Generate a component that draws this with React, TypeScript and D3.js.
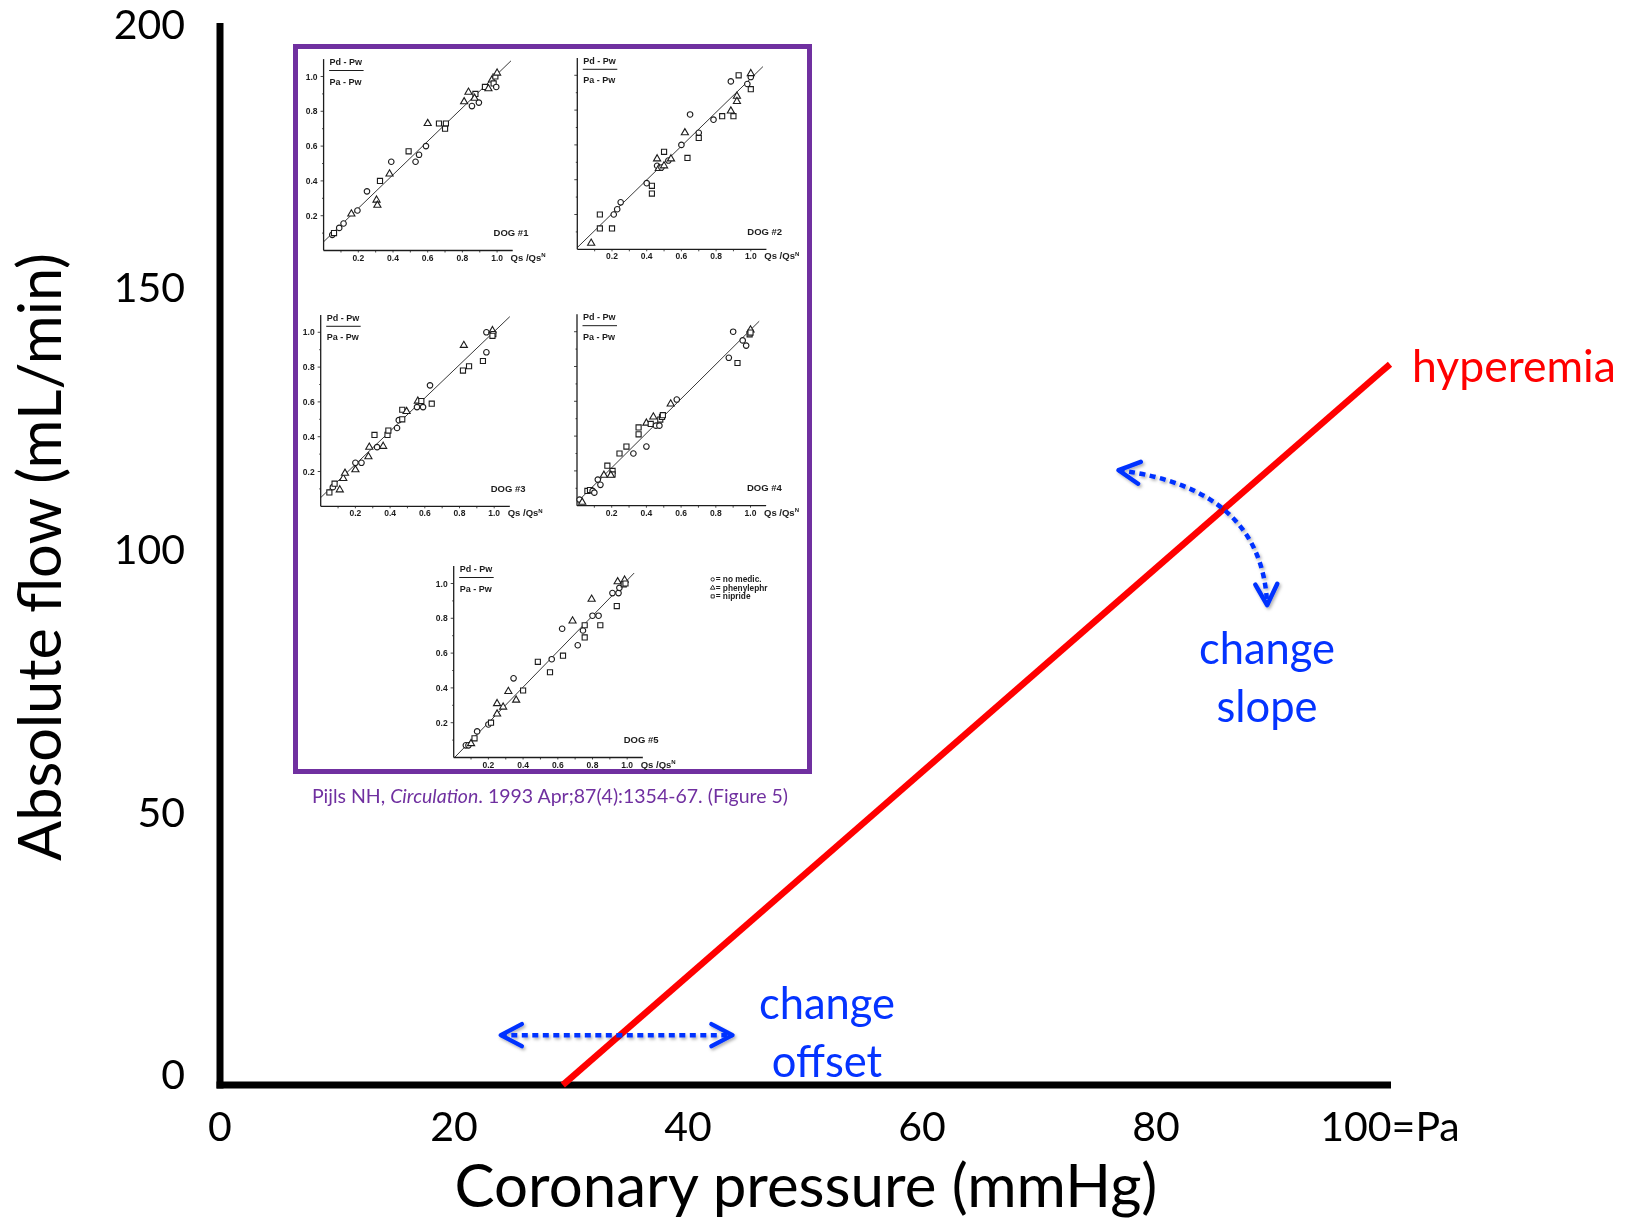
import React from 'react';
import * as d3 from 'd3';

// main chart values
const xTicks = [0, 20, 40, 60, 80, 100];
const xTickLabels = ['0', '20', '40', '60', '80', '100=Pa'];
const yTicks = [0, 50, 100, 150, 200];
const hyperemia = [[29.3, 0], [100, 137.3]];
const offsetArrow = [[24, 9.5], [43.8, 9.5]];
const slopeArrow = [[76.8, 117.1], [89.1, 113.7], [89.5, 91.4]]; // start, control, end

// inset: Pijls 1993 fig 5, [Qs/QsN, (Pd-Pw)/(Pa-Pw), marker]
const dog1 = [
  [0.05, 0.09, 'o'], [0.06, 0.10, 's'], [0.09, 0.13, 'o'], [0.115, 0.155, 'o'], [0.16, 0.21, 't'],
  [0.195, 0.23, 'o'], [0.25, 0.34, 'o'], [0.305, 0.29, 't'], [0.31, 0.26, 't'], [0.325, 0.40, 's'],
  [0.38, 0.44, 't'], [0.39, 0.51, 'o'], [0.49, 0.57, 's'], [0.53, 0.51, 'o'], [0.55, 0.55, 'o'],
  [0.59, 0.60, 'o'], [0.60, 0.73, 't'], [0.665, 0.73, 's'], [0.705, 0.73, 's'], [0.70, 0.70, 's'],
  [0.81, 0.855, 't'], [0.835, 0.91, 't'], [0.855, 0.83, 'o'], [0.875, 0.90, 's'], [0.87, 0.875, 't'],
  [0.895, 0.85, 'o'], [0.93, 0.94, 's'], [0.95, 0.93, 't'], [0.97, 0.98, 't'], [0.98, 0.96, 's'],
  [0.99, 1.0, 's'], [1.0, 1.02, 't'], [0.995, 0.94, 'o'],
];
const dog2 = [
  [0.08, 0.035, 't'], [0.13, 0.12, 's'], [0.13, 0.20, 's'], [0.20, 0.12, 's'], [0.21, 0.20, 'o'],
  [0.23, 0.23, 'o'], [0.25, 0.27, 'o'], [0.40, 0.38, 'o'], [0.43, 0.365, 's'], [0.43, 0.32, 's'],
  [0.46, 0.52, 't'], [0.46, 0.48, 'o'], [0.47, 0.465, 't'], [0.485, 0.47, 'o'], [0.50, 0.48, 't'],
  [0.50, 0.56, 's'], [0.525, 0.51, 'o'], [0.54, 0.52, 't'], [0.60, 0.60, 'o'], [0.62, 0.67, 't'],
  [0.635, 0.525, 's'], [0.65, 0.775, 'o'], [0.70, 0.67, 'o'], [0.70, 0.64, 's'], [0.785, 0.745, 'o'],
  [0.835, 0.765, 's'], [0.885, 0.965, 'o'], [0.885, 0.795, 't'], [0.90, 0.765, 's'], [0.92, 0.88, 't'],
  [0.92, 0.85, 't'], [0.93, 1.0, 's'], [0.98, 0.95, 'o'], [1.0, 0.92, 's'], [1.0, 0.99, 'o'], [1.0, 1.01, 't'],
];
const dog3 = [
  [0.05, 0.08, 's'], [0.07, 0.11, 'o'], [0.08, 0.13, 's'], [0.11, 0.095, 't'], [0.13, 0.16, 't'],
  [0.14, 0.19, 't'], [0.20, 0.21, 't'], [0.20, 0.25, 'o'], [0.235, 0.25, 'o'], [0.275, 0.285, 't'],
  [0.28, 0.34, 't'], [0.31, 0.41, 's'], [0.325, 0.34, 'o'], [0.36, 0.345, 't'], [0.385, 0.41, 's'],
  [0.39, 0.435, 's'], [0.44, 0.45, 'o'], [0.45, 0.495, 'o'], [0.47, 0.50, 's'], [0.47, 0.555, 's'],
  [0.495, 0.545, 't'], [0.555, 0.57, 'o'], [0.56, 0.605, 't'], [0.58, 0.605, 's'], [0.59, 0.57, 'o'],
  [0.63, 0.695, 'o'], [0.64, 0.59, 's'], [0.82, 0.78, 's'], [0.825, 0.925, 't'], [0.855, 0.805, 's'],
  [0.935, 0.835, 's'], [0.955, 1.0, 'o'], [0.955, 0.885, 'o'], [0.99, 1.01, 't'], [0.995, 0.99, 's'], [0.99, 0.98, 's'],
];
const dog4 = [
  [0.015, 0.035, 'o'], [0.03, 0.02, 't'], [0.06, 0.085, 's'], [0.075, 0.09, 's'], [0.09, 0.085, 'o'],
  [0.10, 0.075, 'o'], [0.12, 0.15, 'o'], [0.135, 0.12, 'o'], [0.155, 0.175, 't'], [0.175, 0.23, 's'],
  [0.205, 0.20, 's'], [0.205, 0.18, 's'], [0.195, 0.175, 't'], [0.245, 0.30, 's'], [0.285, 0.34, 's'],
  [0.325, 0.30, 'o'], [0.355, 0.41, 's'], [0.355, 0.45, 's'], [0.40, 0.34, 'o'], [0.40, 0.475, 't'],
  [0.44, 0.51, 't'], [0.425, 0.47, 's'], [0.455, 0.46, 'o'], [0.475, 0.46, 'o'], [0.48, 0.495, 's'],
  [0.49, 0.51, 's'], [0.495, 0.52, 's'], [0.54, 0.585, 't'], [0.575, 0.61, 'o'], [0.875, 0.85, 'o'],
  [0.90, 1.0, 'o'], [0.925, 0.82, 's'], [0.955, 0.95, 'o'], [0.975, 0.92, 'o'], [1.0, 1.01, 't'],
  [0.995, 0.985, 's'], [1.0, 0.995, 's'],
];
const dog5 = [
  [0.07, 0.07, 'o'], [0.085, 0.07, 'o'], [0.10, 0.08, 't'], [0.12, 0.11, 's'], [0.135, 0.15, 'o'],
  [0.20, 0.19, 'o'], [0.215, 0.20, 's'], [0.25, 0.31, 't'], [0.25, 0.25, 't'], [0.285, 0.29, 't'],
  [0.345, 0.455, 'o'], [0.315, 0.38, 't'], [0.36, 0.33, 't'], [0.40, 0.385, 's'], [0.485, 0.55, 's'],
  [0.555, 0.49, 's'], [0.565, 0.565, 'o'], [0.63, 0.585, 's'], [0.625, 0.74, 'o'], [0.685, 0.785, 't'],
  [0.715, 0.645, 'o'], [0.745, 0.73, 'o'], [0.755, 0.76, 's'], [0.755, 0.69, 's'], [0.795, 0.91, 't'],
  [0.80, 0.815, 'o'], [0.835, 0.815, 'o'], [0.845, 0.76, 's'], [0.94, 0.87, 's'], [0.915, 0.945, 'o'],
  [0.945, 1.01, 't'], [0.95, 0.945, 'o'], [0.955, 0.975, 'o'], [0.985, 1.02, 't'], [0.98, 0.995, 's'], [0.99, 1.0, 's'],
];
const fits = [
  [[0, 0.05], [1.08, 1.09]],
  [[0, 0.01], [1.07, 1.05]],
  [[0, 0.05], [1.09, 1.09]],
  [[0, 0.02], [1.05, 1.06]],
  [[0.005, 0], [1.04, 1.06]],
];
const insetTicks = [0.2, 0.4, 0.6, 0.8, 1.0];
const legendItems = [['o', '= no medic.'], ['t', '= phenylephr'], ['s', '= nipride']];

const BLUE = '#0433ff';
const RED = '#ff0000';
const PURPLE = '#7030a0';
const FONT = 'Lato, "Open Sans", sans-serif';
const SCAN = '"Liberation Sans", Arial, sans-serif';

const x = d3.scaleLinear().domain([0, 100]).range([220, 1390]);
const y = d3.scaleLinear().domain([0, 200]).range([1085, 35]);

const symbols = {
  o: d3.symbol(d3.symbolCircle, 24)(),
  t: d3.symbol(d3.symbolTriangle, 22)(),
  s: d3.symbol(d3.symbolSquare, 26)(),
};
const smallSymbols = {
  o: d3.symbol(d3.symbolCircle, 9)(),
  t: d3.symbol(d3.symbolTriangle, 9)(),
  s: d3.symbol(d3.symbolSquare, 10)(),
};

const Panel = ({ ox, oy, data, fit, dog, yLabels, legend }) => {
  const px = d3.scaleLinear().domain([0, 1]).range([ox, ox + 173.5]);
  const py = d3.scaleLinear().domain([0, 1]).range([oy, oy - 174]);
  const minor = d3.range(1, 11).map(d => d / 10);
  return (
    <g fontFamily={SCAN} fontWeight="bold" fill="#1c1c1c">
      <line x1={px(0)} y1={py(0)} x2={px(1.09)} y2={py(0)} stroke="#1c1c1c" strokeWidth={1.3} />
      <line x1={px(0)} y1={py(0)} x2={px(0)} y2={py(1.1)} stroke="#1c1c1c" strokeWidth={1.3} />
      {minor.map(t => (
        <g key={t}>
          <line x1={px(t)} x2={px(t)} y1={py(0)} y2={py(0) + 2} stroke="#1c1c1c" strokeWidth={0.8} />
          <line x1={px(0)} x2={px(0) - (Math.round(t * 10) % 2 ? 1.5 : 3)} y1={py(t)} y2={py(t)} stroke="#1c1c1c" strokeWidth={0.8} />
        </g>
      ))}
      {insetTicks.map(t => (
        <text key={t} x={px(t)} y={py(0) + 10} fontSize={8.5} textAnchor="middle">{t.toFixed(1)}</text>
      ))}
      {yLabels && insetTicks.map(t => (
        <text key={t} x={px(0) - 6} y={py(t) + 3} fontSize={8.5} textAnchor="end">{t.toFixed(1)}</text>
      ))}
      <text x={px(0) + 187} y={py(0) + 10} fontSize={9.5}>Qs /Qs<tspan dy={-3.5} fontSize={6}>N</tspan></text>
      <text x={px(0) + 170} y={py(0) - 14.5} fontSize={9.5}>{dog}</text>
      <text x={px(0) + 6} y={py(0) - 185.5} fontSize={9}>Pd - Pw</text>
      <line x1={px(0) + 5.5} x2={px(0) + 40} y1={py(0) - 180} y2={py(0) - 180} stroke="#1c1c1c" strokeWidth={1} />
      <text x={px(0) + 6} y={py(0) - 166} fontSize={9}>Pa - Pw</text>
      <line x1={px(fit[0][0])} y1={py(fit[0][1])} x2={px(fit[1][0])} y2={py(fit[1][1])} stroke="#222" strokeWidth={0.9} />
      {data.map((d, i) => (
        <path key={i} d={symbols[d[2]]} transform={`translate(${px(d[0])},${py(d[1])})`}
          fill="white" stroke="#1c1c1c" strokeWidth={1.1} />
      ))}
      {legend && legendItems.map((it, i) => (
        <g key={it[0]} transform={`translate(${px(0) + 257},${py(0) - 175.5 + i * 8.5})`}>
          <path d={smallSymbols[it[0]]} transform="translate(2,-2.6)" fill="white" stroke="#1c1c1c" strokeWidth={0.9} />
          <text x={5} y={0} fontSize={8.3}>{it[1]}</text>
        </g>
      ))}
    </g>
  );
};

const panels = [
  { ox: 323.6, oy: 250.5, data: dog1, fit: fits[0], dog: 'DOG #1', yLabels: true },
  { ox: 577.3, oy: 249.3, data: dog2, fit: fits[1], dog: 'DOG #2', yLabels: false },
  { ox: 320.7, oy: 506.3, data: dog3, fit: fits[2], dog: 'DOG #3', yLabels: true },
  { ox: 577, oy: 505.7, data: dog4, fit: fits[3], dog: 'DOG #4', yLabels: false },
  { ox: 453.7, oy: 757.5, data: dog5, fit: fits[4], dog: 'DOG #5', yLabels: true, legend: true },
];

export default function App() {
  const s = slopeArrow;
  const slopePath = `M${x(s[0][0])},${y(s[0][1])} Q${x(s[1][0])},${y(s[1][1])} ${x(s[2][0])},${y(s[2][1])}`;
  const line = d3.line().x(d => x(d[0])).y(d => y(d[1]));
  return (
    <svg width={1637} height={1220} style={{ position: 'absolute', left: 0, top: 0, background: 'white' }}>
      <defs>
        <marker id="chev" viewBox="-26 -16 30 32" markerWidth={30} markerHeight={32} refX={0} refY={0}
          orient="auto-start-reverse" markerUnits="userSpaceOnUse">
          <path d="M-21,-11 L0,0 L-21,11" fill="none" stroke={BLUE} strokeWidth={4.5} strokeLinecap="round" strokeLinejoin="round" />
        </marker>
        <filter id="shadow" x="-20%" y="-50%" width="140%" height="200%">
          <feDropShadow dx={1.5} dy={2} stdDeviation={1.8} floodColor="#000" floodOpacity={0.3} />
        </filter>
        <filter id="scan"><feGaussianBlur stdDeviation={0.3} /></filter>
      </defs>

      {/* inset figure */}
      <rect x={295.5} y={46.5} width={514} height={725} fill="white" stroke={PURPLE} strokeWidth={5} />
      <g filter="url(#scan)">
        {panels.map(p => <Panel key={p.dog} {...p} />)}
      </g>
      <text x={550} y={802.5} fontFamily={FONT} fontSize={19.5} fill={PURPLE} textAnchor="middle">
        Pijls NH, <tspan fontStyle="italic">Circulation</tspan>. 1993 Apr;87(4):1354-67. (Figure 5)
      </text>

      {/* axes */}
      <line x1={x(0)} x2={x(0)} y1={y(0) + 3.5} y2={23} stroke="black" strokeWidth={7} />
      <line x1={x(0) - 3.5} x2={x(100) + 1} y1={y(0)} y2={y(0)} stroke="black" strokeWidth={7} />
      {xTicks.map((t, i) => (
        <text key={t} x={x(t)} y={1141} fontFamily={FONT} fontSize={41} textAnchor="middle">{xTickLabels[i]}</text>
      ))}
      {yTicks.map(t => (
        <text key={t} x={185} y={y(t) + 4} fontFamily={FONT} fontSize={41} textAnchor="end">{t}</text>
      ))}
      <text x={806} y={1207} fontFamily={FONT} fontSize={60} textAnchor="middle">Coronary pressure (mmHg)</text>
      <text transform="translate(61,557) rotate(-90)" fontFamily={FONT} fontSize={59.5} textAnchor="middle">Absolute flow (mL/min)</text>

      {/* hyperemia line */}
      <path d={line(hyperemia)} stroke={RED} strokeWidth={6.5} fill="none" />
      <text x={1412} y={382} fontFamily={FONT} fontSize={44.5} fill={RED}>hyperemia</text>

      {/* annotations */}
      <g filter="url(#shadow)">
        <path d={line(offsetArrow)} stroke={BLUE} strokeWidth={4.5} strokeDasharray="6 4.5" fill="none"
          markerStart="url(#chev)" markerEnd="url(#chev)" />
        <path d={slopePath} stroke={BLUE} strokeWidth={4.5} strokeDasharray="6 4.5" fill="none"
          markerStart="url(#chev)" markerEnd="url(#chev)" />
      </g>
      <g fontFamily={FONT} fontSize={43.5} fill={BLUE} textAnchor="middle">
        <text x={1267} y={664}>change</text>
        <text x={1267} y={722}>slope</text>
        <text x={827} y={1019}>change</text>
        <text x={827} y={1077}>offset</text>
      </g>
    </svg>
  );
}
